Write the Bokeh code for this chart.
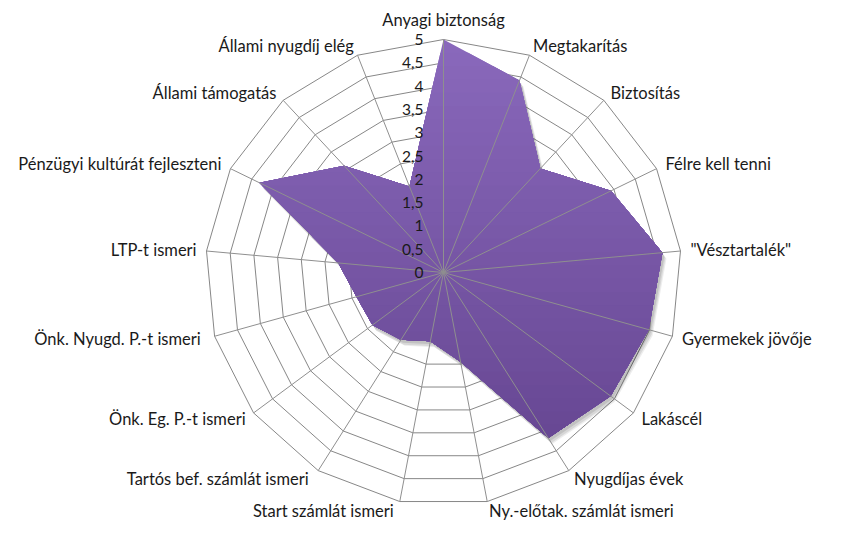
import math
from bokeh.plotting import figure
from bokeh.models import ColumnDataSource, Range1d
from bokeh.core.properties import value
from bokeh.embed import file_html
from bokeh.resources import INLINE

# ---------------- data ----------------
categories = [
    "Anyagi biztonság", "Megtakarítás", "Biztosítás", "Félre kell tenni",
    "\"Vésztartalék\"", "Gyermekek jövője", "Lakáscél", "Nyugdíjas évek",
    "Ny.-előtak. számlát  ismeri", "Start számlát  ismeri",
    "Tartós bef. számlát  ismeri", "Önk. Eg. P.-t ismeri",
    "Önk. Nyugd.  P.-t ismeri", "LTP-t ismeri",
    "Pénzügyi kultúrát fejleszteni", "Állami támogatás", "Állami nyugdíj elég",
]
values = [5.0, 4.42, 3.02, 3.93, 4.62, 4.48, 4.4, 4.18,
          1.95, 1.5, 1.7, 1.87, 1.9, 2.22, 4.32, 3.1, 1.98]
tick_values = [0, 0.5, 1, 1.5, 2, 2.5, 3, 3.5, 4, 4.5, 5]
tick_labels = ["0", "0,5", "1", "1,5", "2", "2,5", "3", "3,5", "4", "4,5", "5"]

# ---------------- layout ----------------
W, H = 826, 525
CX, CY = 443.0, 272.0          # centre in plot pixels
RH, RV = 238.0, 233.0           # pixel radius of the max value (h / v)
vmax = max(tick_values)
sx = RH / vmax                  # px per unit horizontally
sy = RV / vmax                  # px per unit vertically

p = figure(width=W, height=H, output_backend="svg", toolbar_location=None,
           x_axis_location=None, y_axis_location=None, min_border=0,
           outline_line_color=None, background_fill_color="white",
           border_fill_color="white")
p.x_range = Range1d(-CX / sx, (W - CX) / sx)
p.y_range = Range1d(-(H - CY) / sy, CY / sy)
p.grid.visible = False

N = len(categories)
angles = [2 * math.pi * i / N for i in range(N)]

FONT = value("Lato")
TXT = "#1a1a1a"
GRID = "#878787"

# rings
ring_xs, ring_ys = [], []
for t in tick_values[1:]:
    ring_xs.append([t * math.sin(a) for a in angles] + [0.0])
    ring_ys.append([t * math.cos(a) for a in angles] + [t])
p.multi_line(ring_xs, ring_ys, line_color=GRID, line_width=1)

# polygon of the series
px = [v * math.sin(a) for v, a in zip(values, angles)]
py = [v * math.cos(a) for v, a in zip(values, angles)]

# soft shadow
for (ox, oy, al) in [(4, 6, 0.07), (3, 5, 0.09), (2, 3, 0.10)]:
    p.patch([x + ox / sx for x in px], [y - oy / sy for y in py],
            fill_color="black", fill_alpha=al, line_color=None)


def clip_below(xs, ys, t):
    out = []
    n = len(xs)
    for i in range(n):
        x1, y1 = xs[i], ys[i]
        x2, y2 = xs[(i + 1) % n], ys[(i + 1) % n]
        in1, in2 = y1 <= t, y2 <= t
        if in1:
            out.append((x1, y1))
        if in1 != in2:
            f = (t - y1) / (y2 - y1)
            out.append((x1 + f * (x2 - x1), t))
    return out


top_rgb = (0x89, 0x68, 0xbb)
bot_rgb = (0x68, 0x48, 0x94)
ymin, ymax = min(py), max(py)
steps = 30
for k in range(steps):
    t = ymax - (ymax - ymin) * k / steps
    f = k / (steps - 1)
    col = "#%02x%02x%02x" % tuple(int(round(a + (b - a) * f)) for a, b in zip(top_rgb, bot_rgb))
    pts = clip_below(px, py, t + 1e-9) if k else list(zip(px, py))
    if len(pts) >= 3:
        p.patch([q[0] for q in pts], [q[1] for q in pts], fill_color=col, line_color=None)

# spokes
sp_xs = [[0, vmax * math.sin(a)] for a in angles]
sp_ys = [[0, vmax * math.cos(a)] for a in angles]
p.multi_line(sp_xs, sp_ys, line_color="#8f8f8f", line_width=1)

# tick labels along the first spoke
tick_src = ColumnDataSource(dict(x=[-20 / sx] * len(tick_values), y=tick_values, t=tick_labels))
p.text(x="x", y="y", text="t", source=tick_src, text_font=FONT, text_font_size="15.5px",
       text_color=TXT, text_align="right", text_baseline="middle")

# category labels
off = 10.0
lx, ly, la, lb = [], [], [], []
for a in angles:
    s, c = math.sin(a), math.cos(a)
    lx.append(vmax * s + off * s / sx)
    ly.append(vmax * c + off * c / sy)
    if abs(s) < 0.05:
        la.append("center")
        lb.append("bottom" if c > 0 else "top")
    else:
        la.append("left" if s > 0 else "right")
        lb.append("middle")
cat_src = ColumnDataSource(dict(x=lx, y=ly, t=categories, a=la, b=lb))
p.text(x="x", y="y", text="t", source=cat_src, text_font=FONT, text_font_size="16.5px",
       text_color=TXT, text_align="a", text_baseline="b")

open("out.html", "w").write(file_html(p, INLINE))
